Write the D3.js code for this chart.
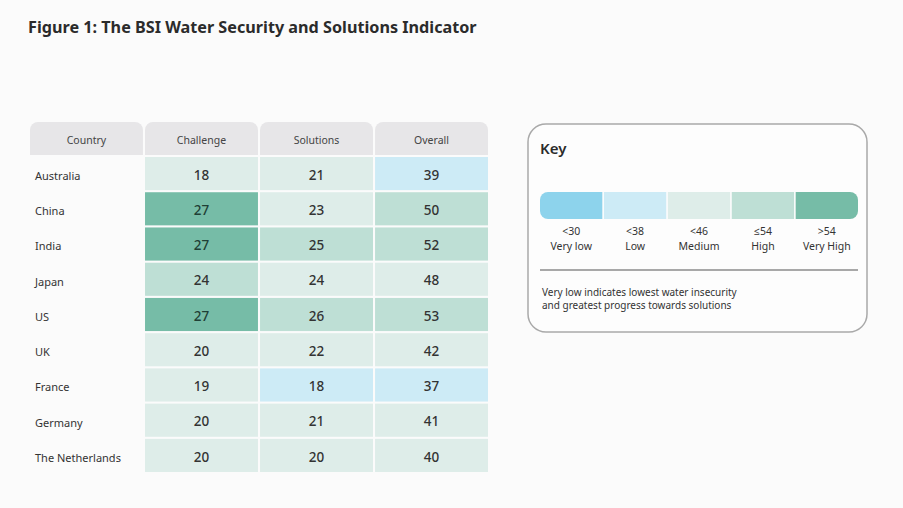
<!DOCTYPE html>
<html><head><meta charset="utf-8">
<script src="https://cdn.jsdelivr.net/npm/d3@7"></script>
<style>
html,body{margin:0;padding:0;background:#fbfbfb;}
svg{display:block;font-family:"Noto Sans","Open Sans",sans-serif;}
</style></head>
<body>
<svg id="chart" width="903" height="508"></svg>
<script>
const title = "Figure 1: The BSI Water Security and Solutions Indicator";
const countries = ["Australia","China","India","Japan","US","UK","France","Germany","The Netherlands"];
const columns = ["Country","Challenge","Solutions","Overall"];
const challenge = [18,27,27,24,27,20,19,20,20];
const solutions = [21,23,25,24,26,22,18,21,20];
const overall   = [39,50,52,48,53,42,37,41,40];
// colour band read from each cell: 0 very low, 1 low, 2 medium, 3 high, 4 very high
const challengeLevel = [2,4,4,3,4,2,2,2,2];
const solutionsLevel = [2,2,3,2,3,2,1,2,2];
const overallLevel   = [1,3,3,2,3,2,1,2,2];
const keyRanges = ["<30","<38","<46","\u226454",">54"];
const keyLabels = ["Very low","Low","Medium","High","Very High"];
const keyNote = ["Very low indicates lowest water insecurity","and greatest progress towards solutions"];

const levelColors = ["#8dd3ec","#cdebf6","#deede9","#bedfd5","#76bca7"];

const svg = d3.select("#chart");
svg.append("rect").attr("width",903).attr("height",508).attr("fill","#fbfbfb");

svg.append("text").attr("x",28).attr("y",33).attr("font-size",16.2).attr("font-weight",700)
  .attr("fill","#2b2b2b").text(title);

const x = d3.scaleBand().domain(columns).range([30,488]).paddingInner(0.018);
const y = d3.scaleBand().domain(countries).range([157,472]).paddingInner(0.06);

// header
const hTop = 122, hBot = 155, r = 8;
columns.forEach(c => {
  const x0 = x(c), x1 = x(c)+x.bandwidth();
  const p = d3.path();
  p.moveTo(x0,hBot); p.lineTo(x0,hTop+r); p.arcTo(x0,hTop,x0+r,hTop,r);
  p.lineTo(x1-r,hTop); p.arcTo(x1,hTop,x1,hTop+r,r); p.lineTo(x1,hBot); p.closePath();
  svg.append("path").attr("d",p.toString()).attr("fill","#e7e6e8");
  svg.append("text").attr("x",(x0+x1)/2).attr("y",(hTop+hBot)/2+2).attr("dy","0.35em")
    .attr("text-anchor","middle").attr("font-size",10.5).attr("fill","#444").text(c);
});

// country labels
svg.selectAll("text.country").data(countries).join("text").attr("class","country")
  .attr("x",x("Country")+5).attr("y",d=>y(d)+y.bandwidth()/2+2.5).attr("dy","0.35em")
  .attr("font-size",11).attr("fill","#333").text(d=>d);

const series = [
  {col:"Challenge", vals:challenge, lev:challengeLevel},
  {col:"Solutions", vals:solutions, lev:solutionsLevel},
  {col:"Overall", vals:overall, lev:overallLevel}
];
series.forEach(s => {
  const g = svg.append("g");
  g.selectAll("rect").data(countries).join("rect")
    .attr("x",x(s.col)).attr("width",x.bandwidth())
    .attr("y",d=>y(d)).attr("height",y.bandwidth())
    .attr("fill",(d,i)=>levelColors[s.lev[i]]);
  g.selectAll("text").data(countries).join("text")
    .attr("x",x(s.col)+x.bandwidth()/2).attr("y",d=>y(d)+y.bandwidth()/2+1.5).attr("dy","0.35em")
    .attr("text-anchor","middle").attr("font-size",13.5).attr("font-weight",500)
    .attr("fill",(d,i)=> s.lev[i]===4 ? "#1f3f36" : "#333")
    .text((d,i)=>s.vals[i]);
});

// key box
svg.append("rect").attr("x",528).attr("y",124).attr("width",339).attr("height",208)
  .attr("rx",18).attr("fill","#fdfdfd").attr("stroke","#a9a9a9").attr("stroke-width",1.5);
svg.append("text").attr("x",540).attr("y",154).attr("font-size",15).attr("font-weight",600)
  .attr("fill","#2b2b2b").text("Key");

const kx = d3.scaleBand().domain(keyLabels).range([540,858]).paddingInner(0.025);
const kyTop = 192, kh = 27, kr = 8;
keyLabels.forEach((k,i) => {
  const x0 = kx(k), x1 = kx(k)+kx.bandwidth(), y0 = kyTop, y1 = kyTop+kh;
  const rl = i===0 ? kr : 0, rr = i===keyLabels.length-1 ? kr : 0;
  const p = d3.path();
  p.moveTo(x0+rl,y0); p.lineTo(x1-rr,y0);
  if(rr){p.arcTo(x1,y0,x1,y0+rr,rr); p.lineTo(x1,y1-rr); p.arcTo(x1,y1,x1-rr,y1,rr);} else {p.lineTo(x1,y1);}
  p.lineTo(x0+rl,y1);
  if(rl){p.arcTo(x0,y1,x0,y1-rl,rl); p.lineTo(x0,y0+rl); p.arcTo(x0,y0,x0+rl,y0,rl);} else {p.lineTo(x0,y0);}
  p.closePath();
  svg.append("path").attr("d",p.toString()).attr("fill",levelColors[i]);
  const cx = (x0+x1)/2;
  svg.append("text").attr("x",cx).attr("y",235).attr("text-anchor","middle")
    .attr("font-size",10.5).attr("fill","#333").text(keyRanges[i]);
  svg.append("text").attr("x",cx).attr("y",250).attr("text-anchor","middle")
    .attr("font-size",10.5).attr("fill","#333").text(k);
});
svg.append("line").attr("x1",540).attr("x2",858).attr("y1",270).attr("y2",270)
  .attr("stroke","#555").attr("stroke-width",1.2);
keyNote.forEach((t,i)=>{
  svg.append("text").attr("x",542).attr("y",296+i*13).attr("font-size",10)
    .attr("fill","#333").text(t);
});
</script>
</body></html>
